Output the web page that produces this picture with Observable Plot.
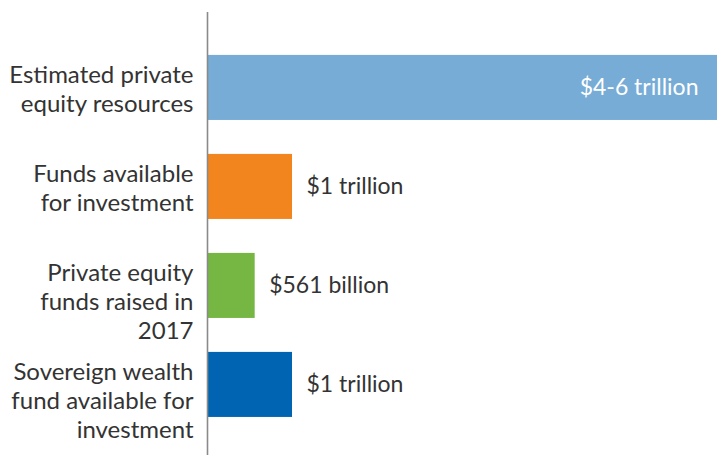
<!DOCTYPE html>
<html>
<head>
<meta charset="utf-8">
<script src="https://cdn.jsdelivr.net/npm/d3@7"></script>
<script src="https://cdn.jsdelivr.net/npm/@observablehq/plot@0.6"></script>
<style>
  html, body { margin: 0; padding: 0; background: #fff; }
  #chart svg { display: block; }
</style>
</head>
<body>
<div id="chart"></div>
<script>
const categories = [
  "Estimated private equity resources",
  "Funds available for investment",
  "Private equity funds raised in 2017",
  "Sovereign wealth fund available for investment"
];
const categoryLabels = [
  "Estimated private\nequity resources",
  "Funds available\nfor investment",
  "Private equity\nfunds raised in\n2017",
  "Sovereign wealth\nfund available for\ninvestment"
];
const valuesTrillion = [6, 1, 0.561, 1];
const valueLabels = ["$4-6 trillion", "$1 trillion", "$561 billion", "$1 trillion"];
const colors = ["#77acd6", "#f3851f", "#76b743", "#0164b2"];

const data = categories.map((c, i) => ({
  category: c,
  label: categoryLabels[i],
  value: valuesTrillion[i],
  valueLabel: valueLabels[i],
  color: colors[i],
  inside: i === 0
}));

const font = "Lato, 'Open Sans', sans-serif";
const textColor = "#333333";

const chart = Plot.plot({
  width: 717,
  height: 455,
  marginLeft: 207,
  marginRight: 0,
  marginTop: 12,
  marginBottom: 0,
  style: {fontFamily: font, background: "#fff"},
  x: {domain: [0, 6], axis: null},
  y: {domain: categories, axis: null, round: false, paddingInner: 0.343, paddingOuter: 0.409, align: 0.53},
  marks: [
    Plot.barX(data, {x: "value", y: "category", fill: "color"}),
    Plot.ruleX([0], {stroke: "#8a8a8a", strokeWidth: 1.6}),
    Plot.text(data, {
      x: 0, y: "category", text: "label",
      textAnchor: "end", dx: -14, dy: -26,
      lineAnchor: "top", lineHeight: 1.21,
      fontSize: 24, fill: textColor
    }),
    Plot.text(data.filter(d => !d.inside), {
      x: "value", y: "category", text: "valueLabel",
      textAnchor: "start", dx: 14,
      fontSize: 23, fill: textColor
    }),
    Plot.text(data.filter(d => d.inside), {
      x: "value", y: "category", text: "valueLabel",
      textAnchor: "end", dx: -19,
      fontSize: 23, fill: "#ffffff"
    })
  ]
});
document.getElementById("chart").appendChild(chart);
</script>
</body>
</html>
